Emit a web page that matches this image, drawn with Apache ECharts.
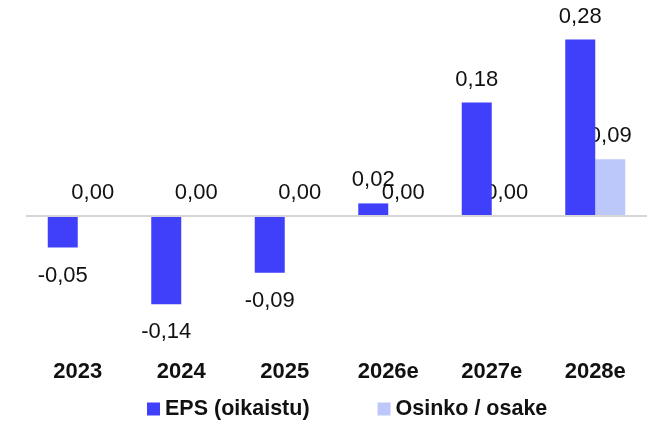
<!DOCTYPE html>
<html>
<head>
<meta charset="utf-8">
<script src="https://cdn.jsdelivr.net/npm/echarts@6/dist/echarts.min.js"></script>
<style>
    html, body { margin: 0; padding: 0; background: #fff; }
    #chart { width: 647px; height: 421px; }
</style>
</head>
<body>
<div id="chart"></div>
<script>
var years = ['2023', '2024', '2025', '2026e', '2027e', '2028e'];
var eps = [-0.05, -0.14, -0.09, 0.02, 0.18, 0.28];
var dividend = [0, 0, 0, 0, 0, 0.09];

var chart = echarts.init(document.getElementById('chart'));

function fmt(p) {
    return p.value.toFixed(2).replace('.', ',');
}

var labelStyle = {
    show: true,
    fontFamily: 'Liberation Sans',
    fontSize: 22,
    color: '#111',
    distance: 12,
    formatter: fmt
};

var option = {
    animation: false,
    grid: {
        left: 26,
        top: 27,
        width: 624,
        height: 315
    },
    legend: {
        top: 398,
        left: 147,
        itemWidth: 13,
        itemHeight: 13,
        itemGap: 68,
        padding: 0,
        icon: 'rect',
        textStyle: {
            fontFamily: 'Liberation Sans',
            fontWeight: 'bold',
            fontSize: 21.5,
            color: '#111'
        },
        data: ['EPS (oikaistu)', 'Osinko / osake']
    },
    xAxis: {
        type: 'category',
        data: years,
        axisLine: { show: false, onZero: false },
        axisTick: { show: false },
        axisLabel: {
            margin: 19,
            fontFamily: 'Liberation Sans',
            fontWeight: 'bold',
            fontSize: 22,
            color: '#111'
        }
    },
    yAxis: {
        type: 'value',
        min: -0.2,
        max: 0.3,
        show: false,
        splitLine: { show: false }
    },
    series: [
        {
            name: 'EPS (oikaistu)',
            type: 'bar',
            barWidth: 30,
            barGap: '0%',
            itemStyle: { color: '#4040fb' },
            data: eps.map(function (v) {
                return {
                    value: v,
                    label: Object.assign({}, labelStyle, v < 0 ? { position: 'bottom', distance: 17 } : { position: 'top' })
                };
            }),
            markLine: {
                silent: true,
                symbol: 'none',
                label: { show: false },
                lineStyle: { color: '#d6d6d6', width: 2, type: 'solid' },
                data: [{ yAxis: 0 }]
            },
            z: 3
        },
        {
            name: 'Osinko / osake',
            type: 'bar',
            barWidth: 30,
            itemStyle: { color: '#bcc8f9' },
            label: Object.assign({}, labelStyle, { position: 'top' }),
            data: dividend,
            z: 2
        }
    ]
};

chart.setOption(option);
</script>
</body>
</html>
